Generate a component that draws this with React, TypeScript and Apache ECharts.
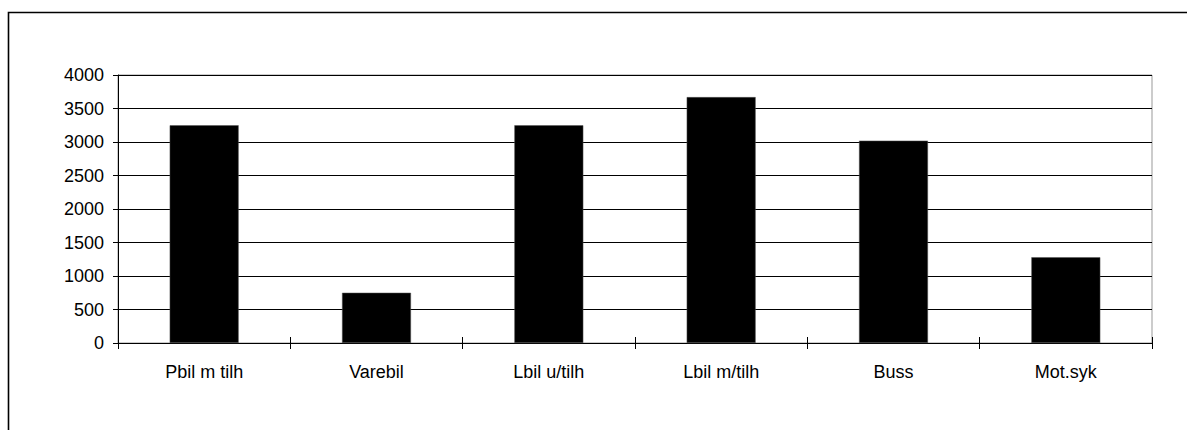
import React, { useEffect, useRef } from "react";
import * as echarts from "echarts";

const categories = ["Pbil m tilh", "Varebil", "Lbil u/tilh", "Lbil m/tilh", "Buss", "Mot.syk"];
const values = [3250, 750, 3250, 3670, 3020, 1280];
const yMin = 0;
const yMax = 4000;
const yInterval = 500;

export default function App() {
  const ref = useRef<HTMLDivElement>(null);
  useEffect(() => {
    if (!ref.current) return;
    const chart = echarts.init(ref.current, null, { renderer: "svg" });
    const font = "'Liberation Sans', Arial, sans-serif";
    chart.setOption({
      animation: false,
      backgroundColor: "#fff",
      grid: {
        left: 118,
        right: 35,
        top: 75,
        bottom: 87,
        show: true,
        borderColor: "#999",
        borderWidth: 1,
        backgroundColor: "transparent",
      },
      graphic: [
        {
          type: "rect",
          shape: { x: 8.5, y: 12.5, width: 1400, height: 600 },
          style: { fill: "none", stroke: "#000", lineWidth: 1.6 },
          silent: true,
          z: -10,
        },
      ],
      xAxis: [
        {
          type: "category",
          data: categories,
          position: "bottom",
          axisLine: { show: true, lineStyle: { color: "#000", width: 1 } },
          axisTick: { show: true, length: 6, lineStyle: { color: "#000" } },
          axisLabel: { color: "#000", fontSize: 18, fontFamily: font, margin: 20 },
          splitLine: { show: false },
        },
        {
          type: "category",
          data: categories,
          position: "bottom",
          axisLine: { show: false },
          axisTick: { show: true, inside: true, length: 6, lineStyle: { color: "#000" } },
          axisLabel: { show: false },
          splitLine: { show: false },
        },
      ],
      yAxis: {
        type: "value",
        min: yMin,
        max: yMax,
        interval: yInterval,
        axisLine: { show: true, lineStyle: { color: "#000", width: 1 } },
        axisTick: { show: true, length: 5, lineStyle: { color: "#000" } },
        axisLabel: {
          color: "#000",
          fontSize: 18,
          fontFamily: font,
          margin: 14,
          formatter: (v: number) => String(v),
        },
        splitLine: { show: true, lineStyle: { color: "#000", width: 1 } },
      },
      series: [
        {
          type: "bar",
          data: values,
          xAxisIndex: 0,
          barWidth: "40%",
          itemStyle: { color: "#000", borderColor: "#555", borderWidth: 0.5 },
        },
      ],
    });
    return () => chart.dispose();
  }, []);
  return (
    <div
      ref={ref}
      style={{ position: "fixed", left: 0, top: 0, width: 1187, height: 430, background: "#fff" }}
    />
  );
}
